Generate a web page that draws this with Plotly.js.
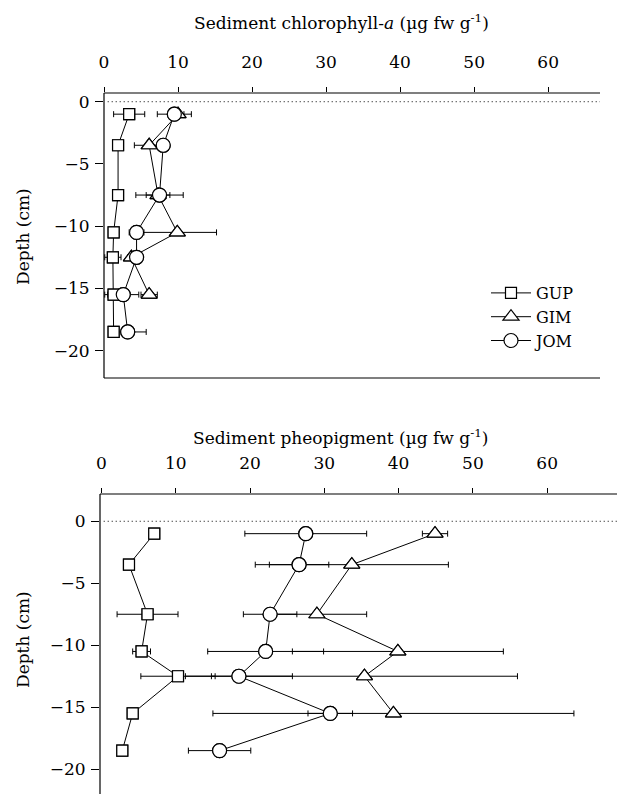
<!DOCTYPE html>
<html>
<head>
<meta charset="utf-8">
<script src="https://cdn.plot.ly/plotly-3.0.1.min.js"></script>
<style>html,body{margin:0;padding:0;background:#fff}#chart{width:617px;height:794px}</style>
</head>
<body>
<div id="chart"></div>
<script>
// ---- data ----
const depth = [-1, -3.5, -7.5, -10.5, -12.5, -15.5, -18.5];
const depthGIM = [-1, -3.5, -7.5, -10.5, -12.5, -15.5];

// Sediment chlorophyll-a (µg fw g-1)
const chlGUP = [3.4, 1.9, 1.9, 1.3, 1.2, 1.3, 1.3];
const chlGUPerr = [2.1, 0.4, 0.4, 0.5, 1.1, 1.2, 0.6];
const chlGIM = [10.0, 6.1, 7.3, 9.9, 3.7, 6.1];
const chlGIMerr = [0.8, 2.0, 1.6, 5.3, 0.5, 1.1];
const chlJOM = [9.5, 8.0, 7.5, 4.4, 4.4, 2.6, 3.2];
const chlJOMerr = [2.3, 0.5, 3.2, 1.0, 0.5, 2.1, 2.5];

// Sediment pheopigment (µg fw g-1)
const pheGUP = [7.1, 3.7, 6.2, 5.4, 10.3, 4.2, 2.8];
const pheGUPerr = [0.4, 0.4, 4.1, 1.2, 5.0, 0.5, 0.4];
const pheGIM = [44.9, 33.7, 29.0, 39.9, 35.4, 39.3];
const pheGIMerr = [1.7, 13.0, 6.7, 14.2, 20.6, 24.3];
const pheJOM = [27.5, 26.6, 22.7, 22.1, 18.5, 30.8, 15.9];
const pheJOMerr = [8.2, 4.0, 3.6, 7.8, 7.2, 3.0, 4.2];

const siteNames = ['GUP', 'GIM', 'JOM'];
const xTicks = [0, 10, 20, 30, 40, 50, 60];
const yTicks = [0, -5, -10, -15, -20];
const titleTop = 'Sediment chlorophyll-<i>a</i> (µg fw g<sup>-1</sup>)';
const titleBottom = 'Sediment pheopigment (µg fw g<sup>-1</sup>)';
const yTitle = 'Depth (cm)';

// ---- styling ----
const FONT = 'DejaVu Serif, Liberation Serif, serif';
const FS = 17;
const symbols = {GUP: 'square', GIM: 'triangle-up', JOM: 'circle'};
const sizes = {GUP: 11, GIM: 14, JOM: 14};

function marker(name) {
  return {symbol: symbols[name], size: sizes[name], color: '#fff', line: {color: '#000', width: 1.2}};
}
function tr(name, x, y, err, xa, ya, showlegend) {
  return {
    type: 'scatter', mode: 'lines+markers', name: name,
    x: x, y: y, xaxis: xa, yaxis: ya, showlegend: showlegend,
    line: {color: '#000', width: 1},
    marker: marker(name),
    error_x: {type: 'data', array: err, visible: true, color: '#000', thickness: 1, width: 3}
  };
}
function over(name, x, y, xa, ya) {
  return {type: 'scatter', mode: 'markers', name: name, x: x, y: y, xaxis: xa, yaxis: ya,
          showlegend: false, marker: marker(name)};
}

const data = [
  tr(siteNames[0], chlGUP, depth, chlGUPerr, 'x', 'y', true),
  tr(siteNames[1], chlGIM, depthGIM, chlGIMerr, 'x', 'y', true),
  tr(siteNames[2], chlJOM, depth, chlJOMerr, 'x', 'y', true),
  tr(siteNames[0], pheGUP, depth, pheGUPerr, 'x2', 'y2', false),
  tr(siteNames[1], pheGIM, depthGIM, pheGIMerr, 'x2', 'y2', false),
  tr(siteNames[2], pheJOM, depth, pheJOMerr, 'x2', 'y2', false),
  over(siteNames[0], chlGUP, depth, 'x', 'y'),
  over(siteNames[1], chlGIM, depthGIM, 'x', 'y'),
  over(siteNames[2], chlJOM, depth, 'x', 'y'),
  over(siteNames[0], pheGUP, depth, 'x2', 'y2'),
  over(siteNames[1], pheGIM, depthGIM, 'x2', 'y2'),
  over(siteNames[2], pheJOM, depth, 'x2', 'y2')
];

const W = 617, H = 794;
const py = v => (H - v) / H;
const px = v => v / W;

const xaxisBase = {
  side: 'top', tickvals: xTicks, ticks: 'outside', ticklen: 5, tickwidth: 1,
  tickcolor: '#000', showline: false,
  showgrid: false, zeroline: false, ticklabelstandoff: 12,
  tickfont: {family: FONT, size: FS, color: '#000'}
};
const yaxisBase = {
  tickvals: yTicks, ticks: 'outside', ticklen: 8, tickwidth: 1,
  tickcolor: '#000', showline: false,
  showgrid: false, zeroline: false, ticklabelstandoff: 2,
  tickfont: {family: FONT, size: FS, color: '#000'}
};

const axLine = {color: '#000', width: 1.2};
const dot = {color: '#000', width: 1, dash: '1px,3px'};
const layout = {
  width: W, height: H,
  margin: {l: 0, r: 0, t: 0, b: 0},
  paper_bgcolor: '#fff', plot_bgcolor: '#fff',
  font: {family: FONT, size: FS, color: '#000'},
  xaxis: Object.assign({}, xaxisBase, {domain: [px(104), px(600)], range: [0, 67.0], anchor: 'y'}),
  yaxis: Object.assign({}, yaxisBase, {domain: [py(378), py(93)], range: [-22.2, 0.7], anchor: 'x'}),
  xaxis2: Object.assign({}, xaxisBase, {domain: [px(100), 1], range: [-0.2, 69.4], anchor: 'y2'}),
  yaxis2: Object.assign({}, yaxisBase, {domain: [0, py(494)], range: [-22.0, 2.2], anchor: 'x2'}),
  shapes: [
    {type: 'line', xref: 'x', yref: 'y', x0: 0.5, x1: 67, y0: 0, y1: 0, line: dot},
    {type: 'line', xref: 'x2', yref: 'y2', x0: 0.3, x1: 69.4, y0: 0, y1: 0, line: dot},
    {type: 'line', xref: 'x domain', yref: 'y domain', x0: 0, x1: 1, y0: 0, y1: 0, line: axLine},
    {type: 'line', xref: 'x domain', yref: 'y domain', x0: 0, x1: 1, y0: 1, y1: 1, line: axLine},
    {type: 'line', xref: 'x domain', yref: 'y domain', x0: 0, x1: 0, y0: 0, y1: 1, line: axLine},
    {type: 'line', xref: 'x2 domain', yref: 'y2 domain', x0: 0, x1: 1, y0: 1, y1: 1, line: axLine},
    {type: 'line', xref: 'x2 domain', yref: 'y2 domain', x0: 0, x1: 0, y0: 0, y1: 1, line: axLine}
  ],
  annotations: [
    {text: titleTop, xref: 'paper', yref: 'paper', x: px(341), y: py(22), showarrow: false, xanchor: 'center', yanchor: 'middle', font: {family: FONT, size: FS, color: '#000'}},
    {text: titleBottom, xref: 'paper', yref: 'paper', x: px(340), y: py(437), showarrow: false, xanchor: 'center', yanchor: 'middle', font: {family: FONT, size: FS, color: '#000'}},
    {text: yTitle, xref: 'paper', yref: 'paper', x: px(23), y: py(237), showarrow: false, textangle: -90, xanchor: 'center', yanchor: 'middle', font: {family: FONT, size: FS, color: '#000'}},
    {text: yTitle, xref: 'paper', yref: 'paper', x: px(23), y: py(640), showarrow: false, textangle: -90, xanchor: 'center', yanchor: 'middle', font: {family: FONT, size: FS, color: '#000'}}
  ],
  legend: {
    x: px(486), y: py(276), xanchor: 'left', yanchor: 'top',
    bgcolor: 'rgba(0,0,0,0)', borderwidth: 0,
    font: {family: FONT, size: 16, color: '#000'},
    itemwidth: 40, tracegroupgap: 0
  }
};

Plotly.newPlot('chart', data, layout, {staticPlot: true, displayModeBar: false});
</script>
</body>
</html>
